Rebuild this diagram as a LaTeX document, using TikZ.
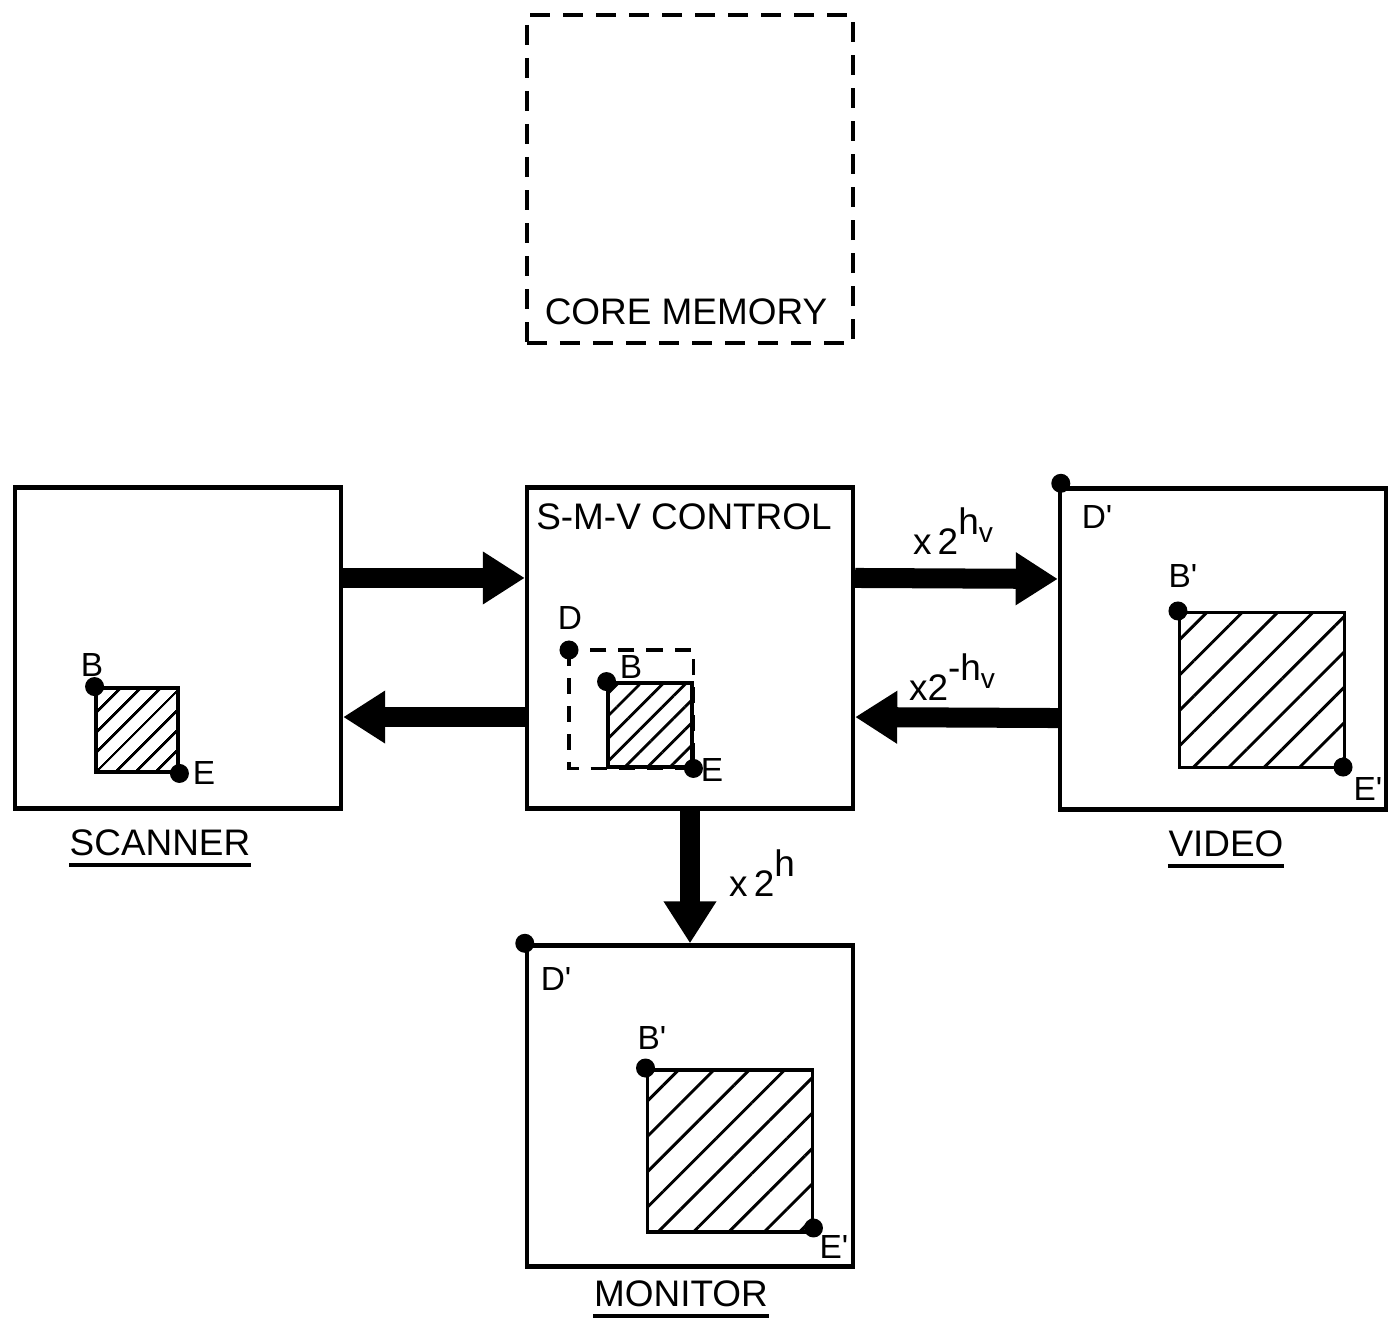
\documentclass[tikz,border=0pt]{standalone}
\usepackage{fontspec}
\setmainfont{Liberation Sans}
\usetikzlibrary{arrows.meta, patterns.meta}

\newcommand{\pw}[1]{\raisebox{1.05ex}{#1}}
\newcommand{\sv}{\raisebox{-0.45ex}{\fontsize{8}{9}\selectfont v}}
\newcommand{\pr}{\textquotesingle}

\tikzset{
  unit/.style={draw, line width=1.2pt, minimum width=3.26cm, minimum height=3.21cm, inner sep=0pt},
  memo/.style={unit, minimum height=3.28cm, dash pattern=on 2mm off 1.3mm},
  area/.style={draw, line width=1.1pt, inner sep=0pt},
  dot/.style={circle, fill, inner sep=0pt, minimum size=0.19cm},
  win/.style={line width=1.1pt, dash pattern=on 1.6mm off 1.2mm},
  flow/.style={line width=0.2cm, -{Triangle[length=0.42cm, width=0.5cm]}},
  txt/.style={font=\fontsize{10.5}{12}\selectfont, inner sep=0pt},
  pt/.style={font=\fontsize{9.5}{11}\selectfont, inner sep=0pt},
  ul/.style={line width=1pt}
}

\begin{document}
\begin{tikzpicture}[x=0.01cm, y=-0.01cm]
  \useasboundingbox (0,0) rectangle (1393,1324);
  % --- Units ---
  \node[memo] (mem) at (690,179) {};
  \node[unit] (scan) at (178,648) {};
  \node[unit] (smv) at (690,648) {};
  \node[unit] (video) at (1223,649) {};
  \node[unit] (mon) at (690,1106) {};
  \node[txt] (memlab) at (686,312) {CORE MEMORY};
  \node[txt] (smvlab) at (684,517) {S-M-V CONTROL};
  % --- Unit names, underlined ---
  \node[txt] (scanlab) at (160,843) {SCANNER};
  \node[txt] (videolab) at (1226,844) {VIDEO};
  \node[txt] (monlab) at (681,1294) {MONITOR};
  \foreach \n in {scanlab, videolab, monlab}
    \draw[ul] ([yshift=-0.08cm]\n.south west) -- ([yshift=-0.08cm]\n.south east);
  % --- Hatched areas ---
  \node[area, minimum width=0.82cm, minimum height=0.84cm,
    pattern={Lines[angle=45, distance=1.4mm, line width=0.8pt]}] (a1) at (137,730) {};
  \node[area, minimum width=0.84cm, minimum height=0.84cm,
    pattern={Lines[angle=45, distance=1.6mm, line width=0.8pt]}] (a2) at (650,725) {};
  \node[area, minimum width=1.65cm, minimum height=1.55cm,
    pattern={Lines[angle=45, distance=2.5mm, line width=0.85pt]}] (a3) at (1262,690) {};
  \node[area, minimum width=1.65cm, minimum height=1.62cm,
    pattern={Lines[angle=45, distance=2.5mm, line width=0.85pt]}] (a4) at (730,1151) {};
  % --- Window D in the control ---
  \node[dot] (d2) at (569,650) {};
  \draw[win] (d2) rectangle (a2.south east);
  % --- Corner points ---
  \node[dot] (b1) at (a1.north west) {};
  \node[dot] (e1) at (a1.south east) {};
  \node[dot] (b2) at (a2.north west) {};
  \node[dot] (e2) at (a2.south east) {};
  \node[dot] (d3) at ([shift={(3,-3)}]video.north west) {};
  \node[dot] (b3) at (a3.north west) {};
  \node[dot] (e3) at ([shift={(-3,-2)}]a3.south east) {};
  \node[dot] (d4) at (mon.north west) {};
  \node[dot] (b4) at (a4.north west) {};
  \node[dot] (e4) at ([shift={(-1,-6)}]a4.south east) {};
  \node[pt] at (92,665) {B};
  \node[pt] at (204,773) {E};
  \node[pt] at (570,618) {D};
  \node[pt] at (631,667) {B};
  \node[pt] at (712,770) {E};
  \node[pt] at (1097,517) {D\pr};
  \node[pt] at (1183,576) {B\pr};
  \node[pt] at (1368,789) {E\pr};
  \node[pt] at (556,979) {D\pr};
  \node[pt] at (652,1038) {B\pr};
  \node[pt] at (834,1247) {E\pr};
  % --- Transfers ---
  \draw[flow] ([yshift=0.7cm]scan.east) -- ([yshift=0.7cm]smv.west);
  \draw[flow] ([yshift=-0.69cm]smv.west) -- ([yshift=-0.69cm]scan.east);
  \draw[flow] ([yshift=0.7cm]smv.east) -- ([yshift=0.7cm]video.west);
  \draw[flow] ([yshift=-0.69cm]video.west) -- ([yshift=-0.69cm]smv.east);
  \draw[flow] (smv.south) -- (mon.north);
  \node[txt] (fhv) at (953,531) {x\,2\pw{h\sv}};
  \node[txt] (bhv) at (952,677) {x2\pw{-h\sv}};
  \node[txt] (fh) at (762,873) {x\,2\pw{h}};
\end{tikzpicture}
\end{document}
